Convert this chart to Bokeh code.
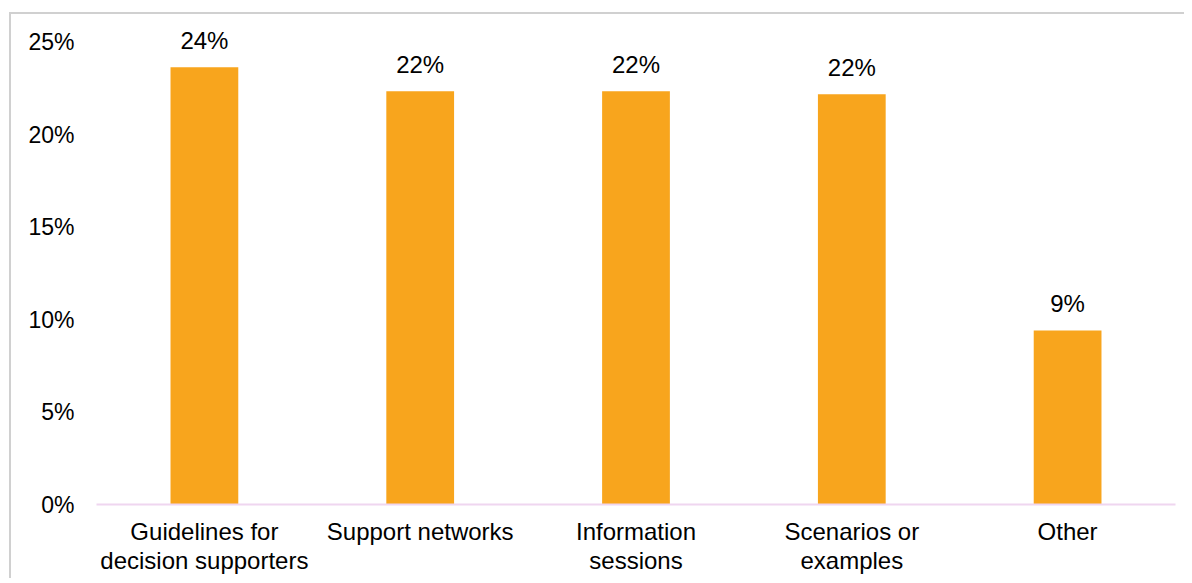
from bokeh.plotting import figure
from bokeh.models import ColumnDataSource, FactorRange, Range1d, NumeralTickFormatter, FixedTicker, LabelSet
from bokeh.core.properties import value
from bokeh.embed import file_html
from bokeh.resources import INLINE

categories = ["Guidelines for\ndecision supporters", "Support networks", "Information\nsessions",
              "Scenarios or\nexamples", "Other"]
shares = [0.2366, 0.2236, 0.2236, 0.2219, 0.0942]
labels = ["24%", "22%", "22%", "22%", "9%"]
y_ticks = [0, 0.05, 0.10, 0.15, 0.20, 0.25]

FONT = "Liberation Sans"
BAR = "#F8A51D"

src = ColumnDataSource(dict(cat=categories, val=shares, lab=labels))

p = figure(width=1175, height=566, x_range=FactorRange(*categories), y_range=Range1d(0, 0.2597),
           output_backend="svg", toolbar_location=None,
           min_border_left=85, min_border_right=11, min_border_top=10, min_border_bottom=76)
p.styles = {"border-left": "2px solid #D0D0D0", "border-top": "2px solid #D0D0D0",
            "margin-top": "12px", "margin-left": "9px"}
p.outline_line_color = None
p.background_fill_color = "white"
p.border_fill_color = "white"
p.grid.grid_line_color = None

p.vbar(x="cat", top="val", width=0.314, source=src, fill_color=BAR, line_color=None)
p.add_layout(LabelSet(x="cat", y="val", text="lab", source=src, text_align="center",
                      text_baseline="bottom", y_offset=13, text_font=value(FONT),
                      text_font_size=value("24px"), text_color=value("#000000")))

p.yaxis.ticker = FixedTicker(ticks=y_ticks)
p.yaxis.formatter = NumeralTickFormatter(format="0%")
p.yaxis.axis_line_color = None
p.yaxis.major_tick_line_color = None
p.yaxis.minor_tick_line_color = None
p.yaxis.major_tick_out = 0
p.yaxis.major_label_standoff = 22
p.yaxis.major_label_text_font = FONT
p.yaxis.major_label_text_font_size = "23px"
p.yaxis.major_label_text_color = "#000000"

p.xaxis.axis_line_color = "#EFD6F0"
p.xaxis.axis_line_width = 2
p.xaxis.major_tick_line_color = None
p.xaxis.major_tick_out = 0
p.xaxis.major_label_standoff = 13
p.xaxis.major_label_text_font = FONT
p.xaxis.major_label_text_font_size = "24px"
p.xaxis.major_label_text_color = "#000000"
p.xaxis.major_label_text_line_height = 1.1

open("out.html", "w").write(file_html(p, INLINE))
